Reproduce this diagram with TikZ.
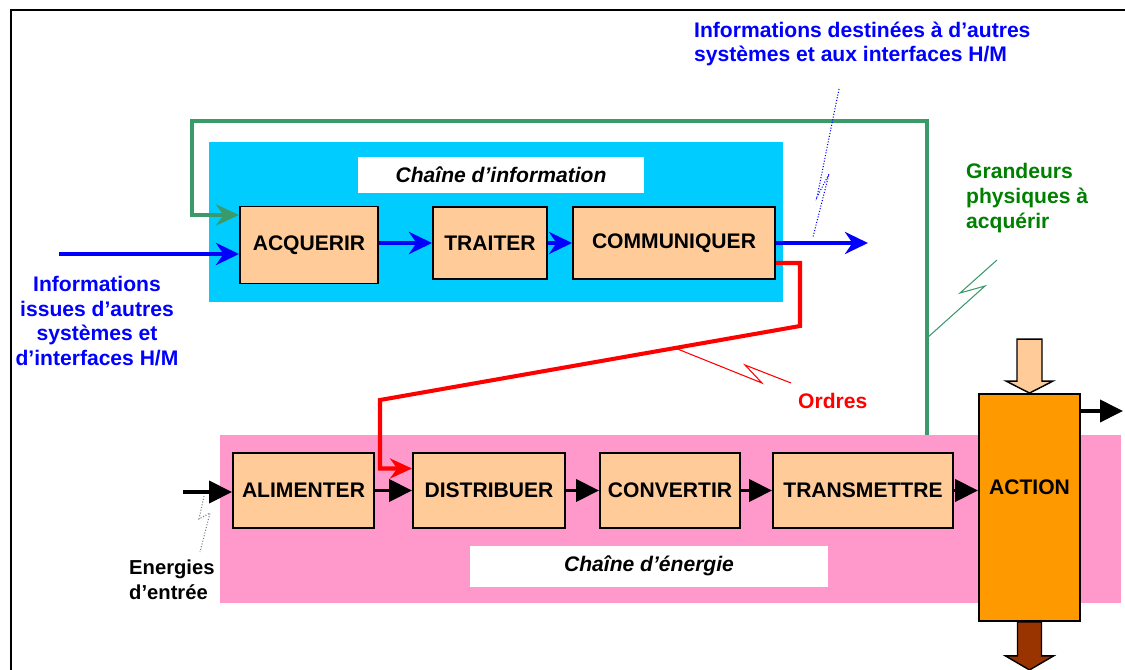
\documentclass[tikz,border=0pt]{standalone}
\usepackage{fontspec}
\setmainfont{Liberation Sans}
\usetikzlibrary{arrows.meta, positioning, calc}
\definecolor{fondinfo}{HTML}{00CCFF}
\definecolor{fondener}{HTML}{FF99CC}
\definecolor{peche}{HTML}{FFCC99}
\definecolor{orangeaction}{HTML}{FF9900}
\definecolor{brun}{HTML}{993300}
\definecolor{vertligne}{HTML}{3A9A6A}
\definecolor{verttexte}{HTML}{008000}
\definecolor{bleuinfo}{HTML}{0000FF}
\tikzset{
  fonction/.style={draw=black, line width=1.1pt, fill=peche, inner sep=0pt},
  titrechaine/.style={fill=white, inner sep=0pt,
    font=\fontsize{12}{14}\selectfont\bfseries\itshape},
  flinfo/.style={bleuinfo, line width=2.4pt,
    -{Stealth[length=0.46cm, width=0.44cm]}},
  flener/.style={black, line width=2.2pt,
    -{Triangle[length=0.46cm, width=0.44cm]}},
  eclair/.style={line width=0.6pt},
}

\begin{document}
\begin{tikzpicture}[x=0.02cm, y=-0.02cm, font=\fontsize{12}{14}\selectfont\bfseries]
  \useasboundingbox (0,0) rectangle (1125,669);
  \draw[line width=1.7pt] (11,690) -- (11,10) -- (1140,10);
  \fill[fondinfo] (209,142) rectangle (783,302);
  \fill[fondener] (220,435) rectangle (1121,603);

  \node[titrechaine, minimum width=5.74cm, minimum height=0.72cm] (titinfo)
    at (501,175) {Chaîne d’information};
  \node[titrechaine, minimum width=7.16cm, minimum height=0.82cm] (titener)
    at (649,566) {Chaîne d’énergie};

  \node[fonction, minimum width=2.76cm, minimum height=1.54cm] (acquerir)
    at (309,245) {ACQUERIR};
  \node[fonction, minimum width=2.28cm, minimum height=1.44cm] (traiter)
    at (490,243) {TRAITER};
  \node[fonction, minimum width=4.04cm, minimum height=1.44cm] (communiquer)
    at (674,243) {COMMUNIQUER};
  \node[fonction, minimum width=2.82cm, minimum height=1.5cm] (alimenter)
    at (303.5,490.5) {ALIMENTER};
  \node[fonction, minimum width=3.04cm, minimum height=1.5cm] (distribuer)
    at (489,490.5) {DISTRIBUER};
  \node[fonction, minimum width=2.8cm, minimum height=1.5cm] (convertir)
    at (670,490.5) {CONVERTIR};
  \node[fonction, minimum width=3.6cm, minimum height=1.5cm] (transmettre)
    at (863,490.5) {TRANSMETTRE};
  \node[fonction, fill=orangeaction, minimum width=2.02cm, minimum height=4.54cm,
    text depth=0.8cm] (action) at (1029.5,507.5) {ACTION};

  \node[bleuinfo, anchor=west, align=left] (infodest) at (688,44)
    {Informations destinées à d’autres\\systèmes et aux interfaces H/M};
  \node[bleuinfo, align=center] (infoissues) at (97,321)
    {Informations\\issues d’autres\\systèmes et\\d’interfaces H/M};
  \node[verttexte, anchor=west, align=left] (grandeurs) at (960,198)
    {Grandeurs\\physiques à\\acquérir};
  \node[red, anchor=west] (ordres) at (792,401) {Ordres};
  \node[anchor=west, align=left, font=\fontsize{11.5}{14}\selectfont\bfseries]
    (energies) at (123,580) {Energies\\d’entrée};

  \coordinate (infoentree) at (59,254);
  \coordinate (infosortie) at (868,243);
  \coordinate (enentree) at (183,492);
  \coordinate (actsortie) at (1123,411);
  \coordinate (grandeur) at (927,435);

  \draw[flinfo] (infoentree) -- (infoentree -| acquerir.west);
  \draw[flinfo] (acquerir.east |- traiter.west) -- (traiter.west);
  \draw[flinfo] (traiter.east) -- (communiquer.west);
  \draw[flinfo] (communiquer.east) -- (infosortie);

  \draw[vertligne, line width=2.3pt, -{Stealth[length=0.46cm, width=0.42cm]}]
    (grandeur) |- (192,121) |- ($(acquerir.west)+(0,-30)$);
  \draw[red, line width=2.3pt, -{Stealth[length=0.44cm, width=0.4cm]}]
    ($(communiquer.east)+(0,20)$) -| (800,326) -- (380,400)
    |- ($(distribuer.west)+(0,-22)$);

  \draw[flener] (enentree) -- (enentree -| alimenter.west);
  \draw[flener] (alimenter.east) -- (distribuer.west);
  \draw[flener] (distribuer.east) -- (convertir.west);
  \draw[flener] (convertir.east) -- (transmettre.west);
  \draw[flener] (transmettre.east) -- (transmettre.east -| action.west);
  \draw[flener] (actsortie -| action.east) -- (actsortie);

  \draw[fill=peche, line width=0.8pt] ($(action.north)+(-12.5,-54)$) -- ++(25,0)
    -- ++(0,42) -- ++(11,0) -- (action.north) -- ++(-23.5,-12) -- ++(11,0) -- cycle;
  \draw[fill=brun, line width=0.8pt] ($(action.south)+(-12,0)$) -- ++(24,0)
    -- ++(0,34) -- ++(12,0) -- ++(-24,14) -- ++(-24,-14) -- ++(12,0) -- cycle;

  \draw[eclair, bleuinfo, densely dotted] (839,89) -- (817,197) -- (829,174) -- (813,237);
  \draw[eclair, vertligne] (997,260) -- (960,293) -- (985,286) -- (927,338);
  \draw[eclair, red] (675,348) -- (762,383) -- (745,365) -- (791,383);
  \draw[eclair, gray, densely dotted] (204,496) -- (199,519) -- (210,513) -- (200,552);
\end{tikzpicture}
\end{document}
